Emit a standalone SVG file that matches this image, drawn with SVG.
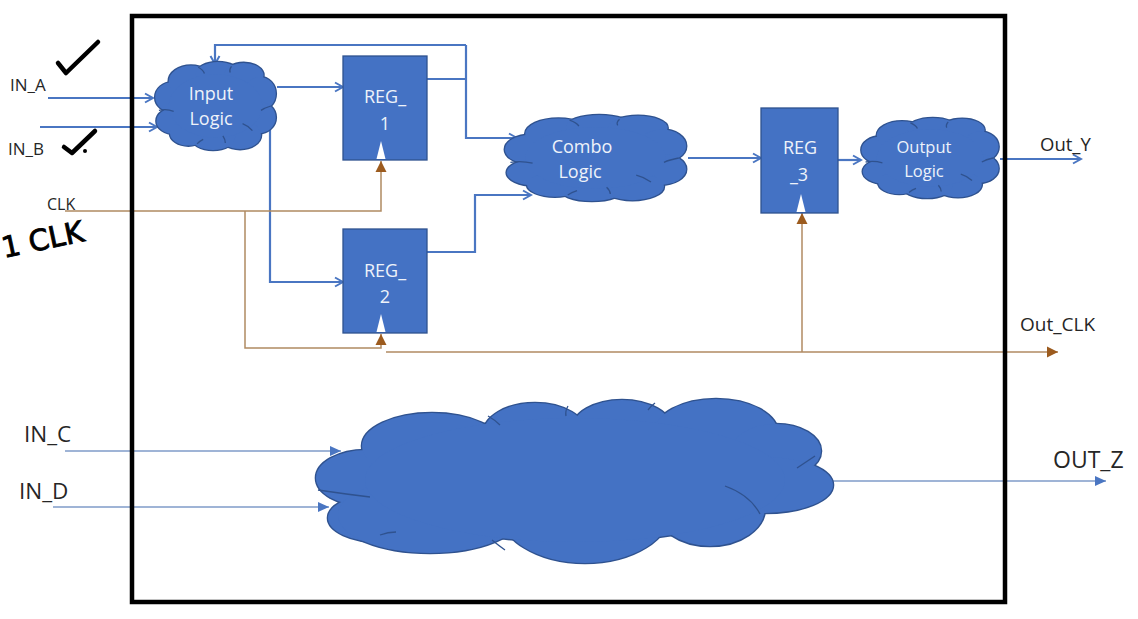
<svg xmlns="http://www.w3.org/2000/svg" xmlns:xlink="http://www.w3.org/1999/xlink" width="1138" height="619" viewBox="0 0 1138 619">
<style>
.lbl{font-family:"Open Sans","Liberation Sans",sans-serif;fill:#262626}
.ntxt{font-family:"Open Sans","Liberation Sans",sans-serif;fill:#EEF2FA;text-anchor:middle}
.reg{fill:#4472C4;stroke:#2F528F;stroke-width:1.3}
.clk{fill:#FFFFFF}
.bl{fill:none;stroke:#4A76C2;stroke-width:2.2}
.blt{fill:none;stroke:#7F9BC8;stroke-width:1.4}
.br{fill:none;stroke:#B08A62;stroke-width:1.5}
.hand{fill:none;stroke:#000;stroke-width:4.5;stroke-linecap:round;stroke-linejoin:round}
</style>
<defs>
<marker id="aOpen" markerUnits="userSpaceOnUse" viewBox="0 0 12 12" refX="10" refY="6" markerWidth="12" markerHeight="12" orient="auto">
<path d="M2,1.5 L10,6 L2,10.5" fill="none" stroke="#4A76C2" stroke-width="2"/>
</marker>
<marker id="aFill" markerUnits="userSpaceOnUse" viewBox="0 0 12 12" refX="11" refY="6" markerWidth="12" markerHeight="12" orient="auto">
<path d="M0,1 L11,6 L0,11 Z" fill="#4A76C2"/>
</marker>
<marker id="aBrown" markerUnits="userSpaceOnUse" viewBox="0 0 12 12" refX="11" refY="6" markerWidth="12" markerHeight="12" orient="auto">
<path d="M0,0.5 L11,6 L0,11.5 Z" fill="#9C5B1E"/>
</marker>
<g id="cbumps">
<ellipse cx="15" cy="40" rx="14" ry="17" vector-effect="non-scaling-stroke"/>
<ellipse cx="17" cy="67" rx="15" ry="15" vector-effect="non-scaling-stroke"/>
<ellipse cx="30" cy="22" rx="18" ry="18" vector-effect="non-scaling-stroke"/>
<ellipse cx="52" cy="14" rx="18" ry="14" vector-effect="non-scaling-stroke"/>
<ellipse cx="73" cy="15" rx="16" ry="14" vector-effect="non-scaling-stroke"/>
<ellipse cx="86" cy="36" rx="13" ry="19" vector-effect="non-scaling-stroke"/>
<ellipse cx="85" cy="63" rx="14" ry="18" vector-effect="non-scaling-stroke"/>
<ellipse cx="70" cy="83" rx="17" ry="16" vector-effect="non-scaling-stroke"/>
<ellipse cx="48" cy="85" rx="18" ry="15" vector-effect="non-scaling-stroke"/>
<ellipse cx="28" cy="81" rx="15" ry="14" vector-effect="non-scaling-stroke"/>
<ellipse cx="50" cy="50" rx="38" ry="36" vector-effect="non-scaling-stroke"/>
</g>
<symbol id="cloudS" viewBox="0 0 100 100" preserveAspectRatio="none" overflow="visible">
<use xlink:href="#cbumps" fill="#4472C4" stroke="#2F528F" stroke-width="2.6"/>
<use xlink:href="#cbumps" fill="#4472C4" stroke="none"/>
<g fill="none" stroke="#2F528F" stroke-width="1.3">
<path d="M4,55 Q10,53 16,56" vector-effect="non-scaling-stroke"/>
<path d="M36,6 Q40,9 41,13" vector-effect="non-scaling-stroke"/>
<path d="M63,5 Q61,9 62,12" vector-effect="non-scaling-stroke"/>
<path d="M95,50 Q90,52 87,55" vector-effect="non-scaling-stroke"/>
<path d="M80,78 Q76,72 72,70" vector-effect="non-scaling-stroke"/>
<path d="M58,92 Q58,88 56,84" vector-effect="non-scaling-stroke"/>
<path d="M35,93 Q37,90 40,88" vector-effect="non-scaling-stroke"/>
</g>
</symbol>
<g id="bigbumps">
<ellipse cx="366" cy="478" rx="50" ry="28"/>
<ellipse cx="380" cy="518" rx="52" ry="24"/>
<ellipse cx="432" cy="446" rx="70" ry="33"/>
<ellipse cx="535" cy="434" rx="52" ry="31"/>
<ellipse cx="622" cy="429" rx="50" ry="29"/>
<ellipse cx="716" cy="433" rx="62" ry="34"/>
<ellipse cx="776" cy="451" rx="45" ry="27"/>
<ellipse cx="765" cy="485" rx="68" ry="28"/>
<ellipse cx="710" cy="508" rx="55" ry="38"/>
<ellipse cx="585" cy="510" rx="86" ry="53"/>
<ellipse cx="430" cy="515" rx="92" ry="38"/>
<ellipse cx="575" cy="480" rx="210" ry="62"/>
</g>
</defs>
<rect width="1138" height="619" fill="#FFFFFF"/>

<g id="connectors">
<path class="bl" d="M48,98 H153" marker-end="url(#aOpen)"/>
<path class="bl" d="M40,127 H157" marker-end="url(#aOpen)"/>
<path class="bl" d="M277,87 H343" marker-end="url(#aOpen)"/>
<path class="bl" d="M270,118 V282 H343" marker-end="url(#aOpen)"/>
<path class="bl" d="M427,79 H466"/>
<path class="bl" d="M466,45 H215 V64" marker-end="url(#aOpen)"/>
<path class="bl" d="M466,45 V138 H517" marker-end="url(#aOpen)"/>
<path class="bl" d="M427,252 H475 V195 H531" marker-end="url(#aOpen)"/>
<path class="bl" d="M688,158 H761" marker-end="url(#aOpen)"/>
<path class="bl" d="M838,160 H861" marker-end="url(#aOpen)"/>
<path class="bl" d="M1000,159 H1081" marker-end="url(#aOpen)"/>
<path class="br" d="M65,211 H381 V161" marker-end="url(#aBrown)"/>
<path class="br" d="M245,211 V348 H381 V334" marker-end="url(#aBrown)"/>
<path class="br" d="M386,352 H1058" marker-end="url(#aBrown)"/>
<path class="br" d="M802,352 V213" marker-end="url(#aBrown)"/>
<path class="blt" d="M65,451 H341" marker-end="url(#aFill)"/>
<path class="blt" d="M53,507 H329" marker-end="url(#aFill)"/>
<path class="blt" d="M833,481 H1106" marker-end="url(#aFill)"/>
</g>

<g id="input-logic">
<use xlink:href="#cloudS" x="154" y="62" width="123" height="88"/>
<text class="ntxt" x="211" y="100" font-size="18">Input</text>
<text class="ntxt" x="211" y="125" font-size="18">Logic</text>
</g>

<g id="reg1">
<rect class="reg" x="343" y="56" width="84" height="104"/>
<text class="ntxt" x="385" y="103" font-size="18">REG_</text>
<text class="ntxt" x="385" y="130" font-size="18">1</text>
<path class="clk" d="M376.5,159 L381,141 L385.5,159 Z"/>
</g>

<g id="reg2">
<rect class="reg" x="343" y="229" width="84" height="104"/>
<text class="ntxt" x="385" y="277" font-size="18">REG_</text>
<text class="ntxt" x="385" y="303" font-size="18">2</text>
<path class="clk" d="M376.5,332 L381,314 L385.5,332 Z"/>
</g>

<g id="combo-logic">
<use xlink:href="#cloudS" x="503" y="115" width="185" height="86"/>
<text class="ntxt" x="582" y="153" font-size="18">Combo</text>
<text class="ntxt" x="580" y="178" font-size="18">Logic</text>
</g>

<g id="reg3">
<rect class="reg" x="761" y="108" width="77" height="105"/>
<text class="ntxt" x="800" y="154" font-size="18">REG</text>
<text class="ntxt" x="799" y="181" font-size="18">_3</text>
<path class="clk" d="M796.5,212 L801,194 L805.5,212 Z"/>
</g>

<g id="output-logic">
<use xlink:href="#cloudS" x="860" y="118" width="140" height="80"/>
<text class="ntxt" x="924" y="153" font-size="16.5">Output</text>
<text class="ntxt" x="924" y="177" font-size="16.5">Logic</text>
</g>

<g id="big-cloud">
<use xlink:href="#bigbumps" fill="#4472C4" stroke="#2F528F" stroke-width="2.6"/>
<use xlink:href="#bigbumps" fill="#4472C4" stroke="none"/>
<g fill="none" stroke="#2F528F" stroke-width="1.3">
<path d="M318,490 Q345,494 370,497"/>
<path d="M488,416 Q495,420 500,425"/>
<path d="M568,406 Q565,411 566,416"/>
<path d="M655,403 Q651,406 648,410"/>
<path d="M797,468 Q806,462 815,456"/>
<path d="M725,486 Q750,495 760,514"/>
<path d="M505,550 Q498,545 492,540"/>
<path d="M380,535 Q388,532 396,532"/>
</g>
</g>

<g id="labels">
<text class="lbl" x="10" y="91" font-size="17">IN_A</text>
<text class="lbl" x="8" y="155" font-size="17">IN_B</text>
<text class="lbl" x="47" y="210" font-size="16">CLK</text>
<text class="lbl" x="1040" y="151" font-size="18.5">Out_Y</text>
<text class="lbl" x="1020" y="331" font-size="19">Out_CLK</text>
<text class="lbl" x="24" y="442" font-size="22.5">IN_C</text>
<text class="lbl" x="19" y="499" font-size="22.5">IN_D</text>
<text class="lbl" x="1053" y="468" font-size="23">OUT_Z</text>
</g>

<g id="handwriting">
<path class="hand" d="M58,63 L66,73 L98,42"/>
<path class="hand" d="M64,147 L72,153 L95,131"/>
<circle cx="85" cy="151" r="2" fill="#000"/>
<text x="4" y="258" font-family="'DejaVu Sans',sans-serif" font-size="29" fill="#000" stroke="#000" stroke-width="0.9" transform="rotate(-12 4 258)">1 CLK</text>
</g>

<rect id="frame" x="132" y="16" width="873" height="586" fill="none" stroke="#000" stroke-width="4.5"/>
</svg>
